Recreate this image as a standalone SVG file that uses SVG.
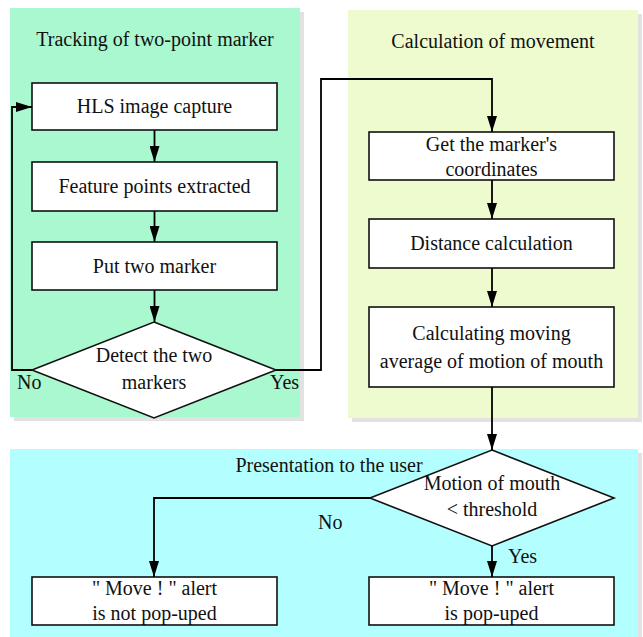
<svg xmlns="http://www.w3.org/2000/svg" width="643" height="637" viewBox="0 0 643 637">
<defs>
<marker id="ah" viewBox="0 0 16 10" refX="16" refY="5" markerWidth="16" markerHeight="10" markerUnits="userSpaceOnUse" orient="auto">
<path d="M0,0 L16,5 L0,10 Z" fill="#000"/>
</marker>
</defs>
<style>
.t{font-family:"Liberation Serif","Times New Roman",serif;font-size:20px;fill:#111;text-anchor:middle}
.l{font-family:"Liberation Serif","Times New Roman",serif;font-size:20px;fill:#111}
.box{fill:#fff;stroke:#111;stroke-width:1.6}
.sh{fill:#e2e2e2}
.c{fill:none;stroke:#000;stroke-width:1.8;marker-end:url(#ah)}
</style>
<g id="panel-tracking">
<rect class="sh" x="14" y="12" width="290" height="409"/>
<rect x="10" y="8" width="290" height="409" fill="#aaf8d0"/>
<text class="t" x="155" y="46">Tracking of two-point marker</text>
</g>
<g id="panel-calculation">
<rect class="sh" x="352" y="14" width="290" height="408"/>
<rect x="348" y="10" width="290" height="408" fill="#eefbcf"/>
<text class="t" x="493" y="48">Calculation of movement</text>
</g>
<g id="panel-presentation">
<rect class="sh" x="14" y="453" width="628" height="190"/>
<rect x="10" y="449" width="628" height="190" fill="#b3fefe"/>
<text class="t" x="329" y="472">Presentation to the user</text>
</g>
<g id="n-hls"><rect class="box" x="32" y="83" width="245" height="47"/><text class="t" x="154.5" y="113">HLS image capture</text></g>
<g id="n-feature"><rect class="box" x="32" y="162" width="245" height="49"/><text class="t" x="154.5" y="193">Feature points extracted</text></g>
<g id="n-put"><rect class="box" x="32" y="242" width="245" height="48"/><text class="t" x="154.5" y="273">Put two marker</text></g>
<g id="n-detect"><polygon class="box" points="154,322 276,370 154,418 32,370"/><text class="t" x="154" y="362">Detect the two</text><text class="t" x="154" y="389">markers</text></g>
<g id="n-coords"><rect class="box" x="369" y="132" width="245" height="48"/><text class="t" x="491.5" y="151">Get the marker's</text><text class="t" x="491.5" y="176">coordinates</text></g>
<g id="n-distance"><rect class="box" x="369" y="219" width="245" height="49"/><text class="t" x="491.5" y="250">Distance calculation</text></g>
<g id="n-moving"><rect class="box" x="369" y="307" width="245" height="80"/><text class="t" x="491.5" y="340">Calculating moving</text><text class="t" x="491.5" y="368">average of motion of mouth</text></g>
<g id="n-threshold"><polygon class="box" points="492,450 614,498 492,546 370,498"/><text class="t" x="492" y="490">Motion of mouth</text><text class="t" x="492" y="516">&lt; threshold</text></g>
<g id="n-notpop"><rect class="box" x="32" y="577" width="245" height="48"/><text class="t" x="154.5" y="595">" Move ! " alert</text><text class="t" x="154.5" y="620">is not pop-uped</text></g>
<g id="n-pop"><rect class="box" x="369" y="577" width="245" height="48"/><text class="t" x="491.5" y="595">" Move ! " alert</text><text class="t" x="491.5" y="620">is pop-uped</text></g>
<g id="connectors">
<path class="c" d="M154.5,130 V162"/>
<path class="c" d="M154.5,211 V242"/>
<path class="c" d="M154.5,290 V322"/>
<path class="c" d="M32,370 H12 V107 H32"/>
<path class="c" d="M276,370 H321 V79 H492 V132"/>
<path class="c" d="M492,180 V219"/>
<path class="c" d="M492,268 V307"/>
<path class="c" d="M492,387 V450"/>
<path class="c" d="M370,498 H154 V577"/>
<path class="c" d="M492,546 V577"/>
</g>
<g id="labels">
<text class="l" x="17" y="389">No</text>
<text class="l" x="270" y="389">Yes</text>
<text class="l" x="318" y="529">No</text>
<text class="l" x="508" y="563">Yes</text>
</g>
</svg>
